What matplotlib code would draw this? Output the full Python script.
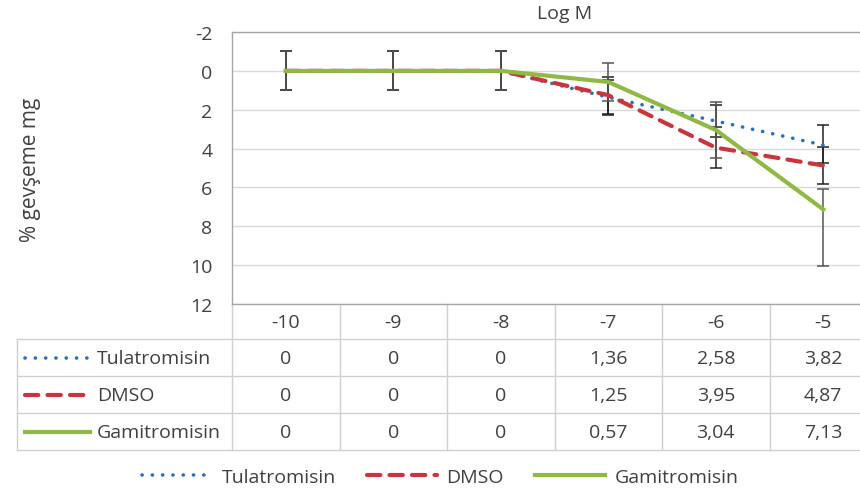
import numpy as np
import matplotlib.pyplot as plt
from matplotlib.transforms import blended_transform_factory

plt.rcParams['font.family'] = ['Open Sans', 'DejaVu Sans']
plt.rcParams['axes.unicode_minus'] = False

log_m = [-10, -9, -8, -7, -6, -5]
series_names = ['Tulatromisin', 'DMSO', 'Gamitromisin']
tulatromisin = [0, 0, 0, 1.36, 2.58, 3.82]
dmso = [0, 0, 0, 1.25, 3.95, 4.87]
gamitromisin = [0, 0, 0, 0.57, 3.04, 7.13]
# error bars (minus, plus)
tula_err = [[1, 1, 1, 0.9, 0.8, 1.06], [1, 1, 1, 0.9, 0.8, 0.9]]
dmso_err = [[1, 1, 1, 0.95, 1.05, 0.95], [1, 1, 1, 0.95, 1.05, 0.95]]
gami_err = [[1, 1, 1, 0.98, 1.46, 1.05], [1, 1, 1, 0.98, 1.46, 2.9]]

colors = ['#2f6eba', '#c8363d', '#8fb944']
styles = [(0, (0.05, 2.8)), (0, (3.2, 2.2)), '-']
widths = [2.6, 3.0, 3.0]
text_col = '#404040'
grid_col = '#d9d9d9'
fs = 14

fig = plt.figure(figsize=(8.6, 5.02), dpi=100)
ax = fig.add_axes([0.2698, 0.3924, 0.75, 0.5418])

data = [tulatromisin, dmso, gamitromisin]
errs = [tula_err, dmso_err, gami_err]
ecols = ['#222222', '#222222', '#555555']
for i in range(3):
    ax.errorbar(log_m, data[i], yerr=errs[i], fmt='none', ecolor=ecols[i],
                elinewidth=1.1, capsize=4.5, capthick=1.1, zorder=3)
    ax.plot(log_m, data[i], color=colors[i], linestyle=styles[i], lw=widths[i],
            dash_capstyle='round', label=series_names[i], zorder=4 + i)

ax.set_xlim(-10.5, -4.5)
ax.set_ylim(12, -2)
ax.set_yticks(np.arange(-2, 13, 2))
ax.set_xticks([])
ax.tick_params(axis='y', length=0, pad=14, labelsize=fs, labelcolor=text_col)
ax.yaxis.grid(True, color=grid_col, lw=1)
ax.set_axisbelow(True)
for s in ax.spines.values():
    s.set_color('#a6a6a6')
    s.set_linewidth(1)

# data table under the plot
trans = blended_transform_factory(ax.transData, ax.transAxes)
row_y = [-0.1287, -0.265, -0.4007, -0.5368]
tbl_col = '#d0d0d0'
for b in np.arange(-10.5, -4.4, 1):
    ax.plot([b, b], [0, row_y[-1]], transform=trans, clip_on=False, color=tbl_col, lw=1)
for y in row_y:
    ax.plot([-0.333, 1], [y, y], transform=ax.transAxes, clip_on=False, color=tbl_col, lw=1)
ax.plot([-0.333, -0.333], [row_y[0], row_y[-1]], transform=ax.transAxes, clip_on=False,
        color=tbl_col, lw=1)

for x in log_m:
    ax.text(x, -0.0643, str(x), transform=trans, ha='center', va='center',
            fontsize=fs, color=text_col)

row_c = [-0.1967, -0.3327, -0.4688]
for i in range(3):
    yc = row_c[i]
    ax.plot([-0.321, -0.22], [yc, yc], transform=ax.transAxes, clip_on=False,
            color=colors[i], linestyle=styles[i], lw=widths[i], dash_capstyle='round')
    ax.text(-0.209, yc, series_names[i], transform=ax.transAxes, ha='left', va='center',
            fontsize=fs, color=text_col)
    for x, v in zip(log_m, data[i]):
        ax.text(x, yc, str(v).replace('.', ','), transform=trans, ha='center', va='center',
                fontsize=fs, color=text_col)

fig.text(0.657, 0.972, 'Log M', ha='center', va='center', fontsize=fs, color=text_col)
fig.text(0.035, 0.661, '% gevşeme mg', rotation=90, ha='center', va='center',
         fontsize=15, color=text_col)

fig.legend(loc='center', bbox_to_anchor=(0.512, 0.048), ncol=3, frameon=False,
           fontsize=fs, handlelength=3.6, handletextpad=0.5, columnspacing=1.6,
           labelcolor=text_col)

fig.savefig('out.png', dpi=100)
